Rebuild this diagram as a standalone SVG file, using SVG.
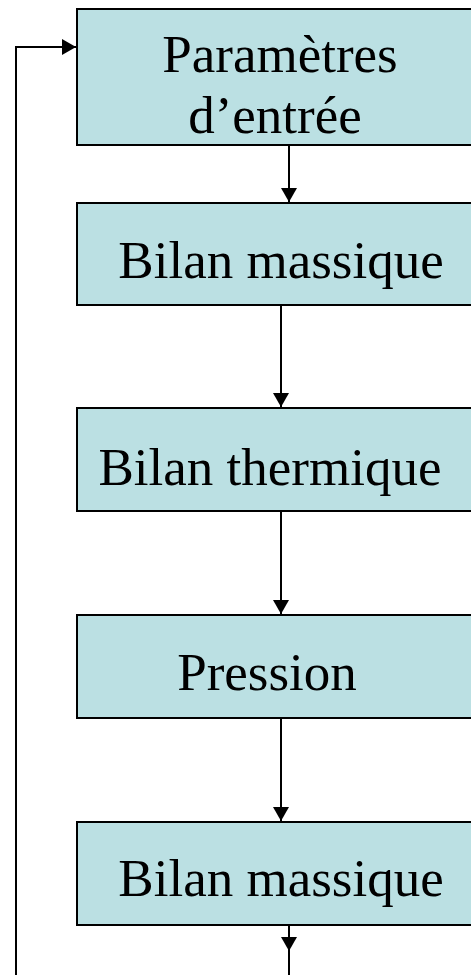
<svg xmlns="http://www.w3.org/2000/svg" width="471" height="975" viewBox="0 0 471 975">
<style>
.box{fill:#BBE0E3;stroke:#000;stroke-width:2}
.lbl{font-family:"Liberation Serif","Times New Roman",serif;font-size:53px;fill:#000;text-anchor:middle}
.con{fill:none;stroke:#000;stroke-width:2}
</style>
<defs>
<marker id="ah" markerWidth="16" markerHeight="16" refX="14" refY="8" orient="auto" markerUnits="userSpaceOnUse">
<path d="M0,0 L14,8 L0,16 Z" fill="#000"/>
</marker>
</defs>
<g id="n1"><rect class="box" x="77" y="9" width="420" height="136"/>
<text class="lbl" x="280" y="72">Paramètres</text>
<text class="lbl" x="275" y="133">d’entrée</text></g>
<g id="n2"><rect class="box" x="77" y="203" width="420" height="102"/>
<text class="lbl" x="281" y="278">Bilan massique</text></g>
<g id="n3"><rect class="box" x="77" y="408" width="420" height="103"/>
<text class="lbl" x="270" y="485">Bilan thermique</text></g>
<g id="n4"><rect class="box" x="77" y="615" width="420" height="103"/>
<text class="lbl" x="267" y="690">Pression</text></g>
<g id="n5"><rect class="box" x="77" y="822" width="420" height="103"/>
<text class="lbl" x="281" y="896">Bilan massique</text></g>
<g id="connectors">
<line class="con" x1="289" y1="145" x2="289" y2="202" marker-end="url(#ah)"/>
<line class="con" x1="281" y1="305" x2="281" y2="407" marker-end="url(#ah)"/>
<line class="con" x1="281" y1="511" x2="281" y2="614" marker-end="url(#ah)"/>
<line class="con" x1="281" y1="718" x2="281" y2="821" marker-end="url(#ah)"/>
<line class="con" x1="289" y1="925" x2="289" y2="975"/>
<path d="M289,951 L281,937 L297,937 Z" fill="#000"/>
<polyline class="con" points="16,975 16,47 76,47" marker-end="url(#ah)"/>
</g>
</svg>
